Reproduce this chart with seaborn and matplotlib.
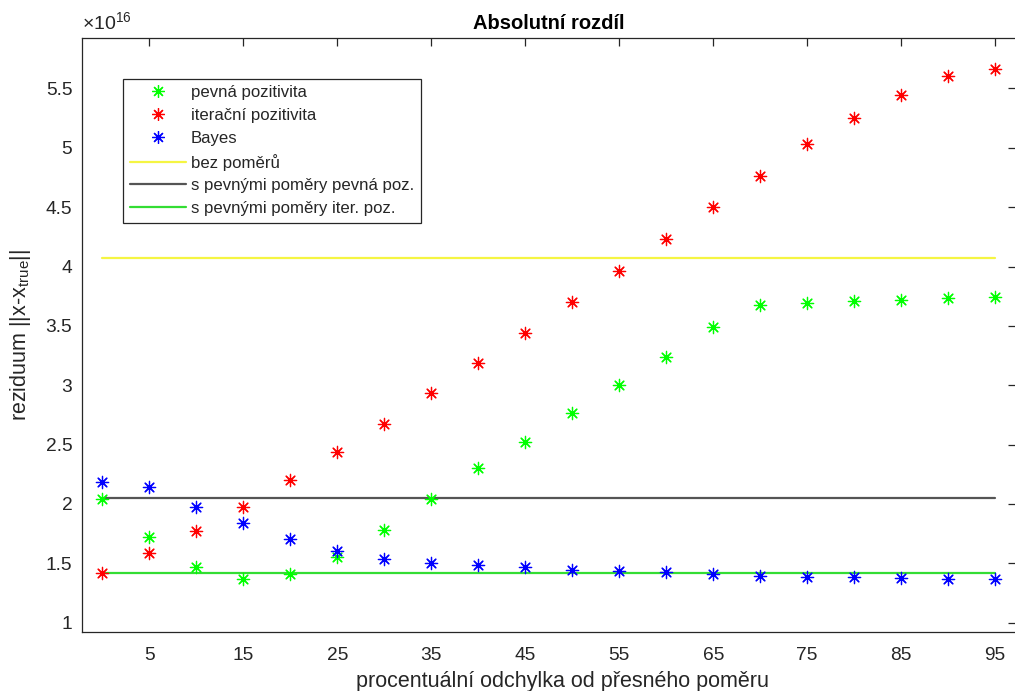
import numpy as np
import pandas as pd
import matplotlib
matplotlib.use("Agg")
import matplotlib.pyplot as plt
from matplotlib.lines import Line2D
import seaborn as sns

# percentual deviation from the exact ratio
odchylka = [0, 5, 10, 15, 20, 25, 30, 35, 40, 45, 50, 55, 60, 65, 70, 75, 80, 85, 90, 95]

# residuals (in units of 1e16)
pevna_pozitivita = [2.04, 1.725, 1.467, 1.368, 1.41, 1.551, 1.781, 2.04, 2.306, 2.522,
                    2.764, 3.0, 3.241, 3.494, 3.677, 3.69, 3.713, 3.719, 3.738, 3.746]
iteracni_pozitivita = [1.416, 1.585, 1.773, 1.977, 2.2, 2.438, 2.674, 2.933, 3.185, 3.438,
                       3.704, 3.965, 4.23, 4.5, 4.763, 5.033, 5.249, 5.446, 5.606, 5.662]
bayes = [2.183, 2.146, 1.977, 1.837, 1.705, 1.604, 1.534, 1.505, 1.486, 1.467,
         1.444, 1.438, 1.43, 1.408, 1.396, 1.382, 1.382, 1.374, 1.366, 1.366]

# constant reference levels
bez_pomeru = 4.07
pevne_pomery_pevna = 2.053
pevne_pomery_iter = 1.416

x_ticks = [5, 15, 25, 35, 45, 55, 65, 75, 85, 95]
y_ticks = [1, 1.5, 2, 2.5, 3, 3.5, 4, 4.5, 5, 5.5]

sns.set_theme(style="white")
plt.rcParams["font.family"] = ["Liberation Sans", "DejaVu Sans"]
plt.rcParams["mathtext.fontset"] = "custom"
plt.rcParams["mathtext.rm"] = "Liberation Sans"
plt.rcParams["mathtext.it"] = "Liberation Sans"

fig = plt.figure(figsize=(10.15, 6.91), dpi=100)
ax = fig.add_axes([0.0808, 0.0858, 0.920, 0.8588])

AX = "#262626"
GREEN = "#00ff00"
RED = "#ff0000"
BLUE = "#0000ff"
YELLOW = "#f5f542"
GRAY = "#555555"
LGREEN = "#33dd33"

star = (8, 2, 0)

lines_df = pd.DataFrame({
    "x": odchylka * 3,
    "y": [bez_pomeru] * 20 + [pevne_pomery_pevna] * 20 + [pevne_pomery_iter] * 20,
    "serie": ["bez poměrů"] * 20 + ["s pevnými poměry pevná poz."] * 20
             + ["s pevnými poměry iter. poz."] * 20,
})
sns.lineplot(data=lines_df, x="x", y="y", hue="serie",
             palette=[YELLOW, GRAY, LGREEN], linewidth=1.6, legend=False, ax=ax)

for vals, col in [(pevna_pozitivita, GREEN), (iteracni_pozitivita, RED), (bayes, BLUE)]:
    sns.scatterplot(x=odchylka, y=vals, marker=star, color=col, edgecolor=col,
                    s=78, linewidth=0.9, ax=ax, zorder=3)

ax.set_xlim(-2.16, 97.2)
ax.set_ylim(0.924, 5.923)
ax.set_xticks(x_ticks)
ax.set_xticklabels([str(t) for t in x_ticks])
ax.set_yticks(y_ticks)
ax.set_yticklabels([f"{t:g}" for t in y_ticks])

ax.tick_params(axis="both", which="both", direction="in", length=6, width=0.9,
               colors=AX, labelsize=13.8, top=True, right=True,
               labeltop=False, labelright=False)
ax.tick_params(axis="y", pad=7)
ax.tick_params(axis="x", pad=11)
for sp in ax.spines.values():
    sp.set_visible(True)
    sp.set_color(AX)
    sp.set_linewidth(0.9)

ax.set_title("Absolutní rozdíl", fontsize=14.5, fontweight="bold", color="black", pad=7)
ax.set_xlabel("procentuální odchylka od přesného poměru", fontsize=15.5, color=AX)
ax.xaxis.set_label_coords(0.515, -0.066)
ax.set_ylabel(r"reziduum ||x-x$_{\mathrm{true}}$||", fontsize=15.5, color=AX, labelpad=9)
ax.text(0.0, 1.008, r"$\times10^{16}$", transform=ax.transAxes, fontsize=14,
        color=AX, ha="left", va="bottom")

handles = [
    Line2D([], [], linestyle="", marker=star, color=GREEN, markersize=9, markeredgewidth=0.9),
    Line2D([], [], linestyle="", marker=star, color=RED, markersize=9, markeredgewidth=0.9),
    Line2D([], [], linestyle="", marker=star, color=BLUE, markersize=9, markeredgewidth=0.9),
    Line2D([], [], color=YELLOW, linewidth=1.6),
    Line2D([], [], color=GRAY, linewidth=1.6),
    Line2D([], [], color=LGREEN, linewidth=1.6),
]
labels = ["pevná pozitivita", "iterační pozitivita", "Bayes", "bez poměrů",
          "s pevnými poměry pevná poz.", "s pevnými poměry iter. poz."]
leg = ax.legend(handles, labels, loc="upper left", bbox_to_anchor=(0.0439, 0.932),
                fontsize=12.1, frameon=True, fancybox=False, framealpha=1,
                edgecolor=AX, handlelength=3.35, handletextpad=0.3,
                borderpad=0.4, labelspacing=0.46, borderaxespad=0)
leg.get_frame().set_linewidth(0.9)

fig.savefig("out.png", dpi=100)
